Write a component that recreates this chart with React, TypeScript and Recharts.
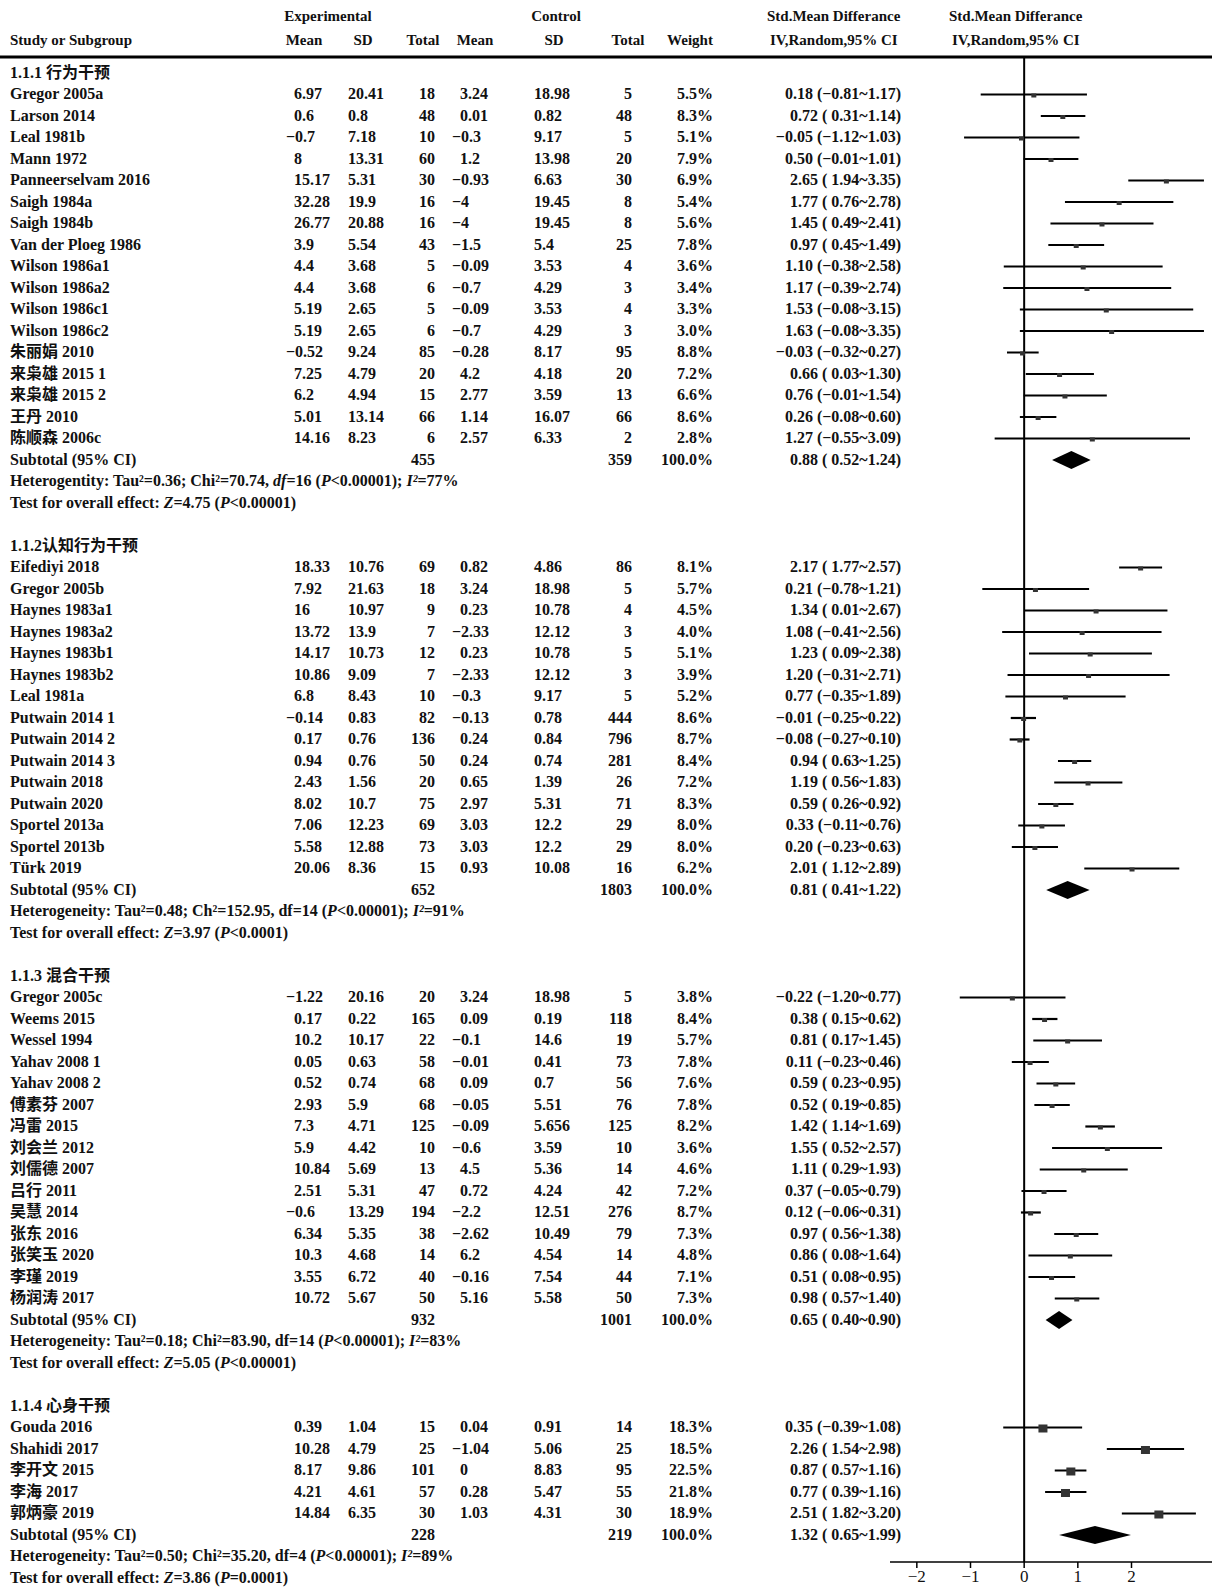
import React from "react";
import {
  ScatterChart,
  Scatter,
  XAxis,
  YAxis,
  ErrorBar,
  ReferenceLine,
  ReferenceArea,
} from "recharts";

// name, exp mean, exp SD, exp total, ctl mean, ctl SD, ctl total, weight %, SMD, lower, upper
type Study = [string, number, number, number, number, number, number, number, number, number, number];

const behaviour: Study[] = [
  ["Gregor 2005a", 6.97, 20.41, 18, 3.24, 18.98, 5, 5.5, 0.18, -0.81, 1.17],
  ["Larson 2014", 0.6, 0.8, 48, 0.01, 0.82, 48, 8.3, 0.72, 0.31, 1.14],
  ["Leal 1981b", -0.7, 7.18, 10, -0.3, 9.17, 5, 5.1, -0.05, -1.12, 1.03],
  ["Mann 1972", 8, 13.31, 60, 1.2, 13.98, 20, 7.9, 0.5, -0.01, 1.01],
  ["Panneerselvam 2016", 15.17, 5.31, 30, -0.93, 6.63, 30, 6.9, 2.65, 1.94, 3.35],
  ["Saigh 1984a", 32.28, 19.9, 16, -4, 19.45, 8, 5.4, 1.77, 0.76, 2.78],
  ["Saigh 1984b", 26.77, 20.88, 16, -4, 19.45, 8, 5.6, 1.45, 0.49, 2.41],
  ["Van der Ploeg 1986", 3.9, 5.54, 43, -1.5, 5.4, 25, 7.8, 0.97, 0.45, 1.49],
  ["Wilson 1986a1", 4.4, 3.68, 5, -0.09, 3.53, 4, 3.6, 1.1, -0.38, 2.58],
  ["Wilson 1986a2", 4.4, 3.68, 6, -0.7, 4.29, 3, 3.4, 1.17, -0.39, 2.74],
  ["Wilson 1986c1", 5.19, 2.65, 5, -0.09, 3.53, 4, 3.3, 1.53, -0.08, 3.15],
  ["Wilson 1986c2", 5.19, 2.65, 6, -0.7, 4.29, 3, 3.0, 1.63, -0.08, 3.35],
  ["朱丽娟 2010", -0.52, 9.24, 85, -0.28, 8.17, 95, 8.8, -0.03, -0.32, 0.27],
  ["来枭雄 2015 1", 7.25, 4.79, 20, 4.2, 4.18, 20, 7.2, 0.66, 0.03, 1.3],
  ["来枭雄 2015 2", 6.2, 4.94, 15, 2.77, 3.59, 13, 6.6, 0.76, -0.01, 1.54],
  ["王丹 2010", 5.01, 13.14, 66, 1.14, 16.07, 66, 8.6, 0.26, -0.08, 0.6],
  ["陈顺森 2006c", 14.16, 8.23, 6, 2.57, 6.33, 2, 2.8, 1.27, -0.55, 3.09],
];

const cognitive: Study[] = [
  ["Eifediyi 2018", 18.33, 10.76, 69, 0.82, 4.86, 86, 8.1, 2.17, 1.77, 2.57],
  ["Gregor 2005b", 7.92, 21.63, 18, 3.24, 18.98, 5, 5.7, 0.21, -0.78, 1.21],
  ["Haynes 1983a1", 16, 10.97, 9, 0.23, 10.78, 4, 4.5, 1.34, 0.01, 2.67],
  ["Haynes 1983a2", 13.72, 13.9, 7, -2.33, 12.12, 3, 4.0, 1.08, -0.41, 2.56],
  ["Haynes 1983b1", 14.17, 10.73, 12, 0.23, 10.78, 5, 5.1, 1.23, 0.09, 2.38],
  ["Haynes 1983b2", 10.86, 9.09, 7, -2.33, 12.12, 3, 3.9, 1.2, -0.31, 2.71],
  ["Leal 1981a", 6.8, 8.43, 10, -0.3, 9.17, 5, 5.2, 0.77, -0.35, 1.89],
  ["Putwain 2014 1", -0.14, 0.83, 82, -0.13, 0.78, 444, 8.6, -0.01, -0.25, 0.22],
  ["Putwain 2014 2", 0.17, 0.76, 136, 0.24, 0.84, 796, 8.7, -0.08, -0.27, 0.1],
  ["Putwain 2014 3", 0.94, 0.76, 50, 0.24, 0.74, 281, 8.4, 0.94, 0.63, 1.25],
  ["Putwain 2018", 2.43, 1.56, 20, 0.65, 1.39, 26, 7.2, 1.19, 0.56, 1.83],
  ["Putwain 2020", 8.02, 10.7, 75, 2.97, 5.31, 71, 8.3, 0.59, 0.26, 0.92],
  ["Sportel 2013a", 7.06, 12.23, 69, 3.03, 12.2, 29, 8.0, 0.33, -0.11, 0.76],
  ["Sportel 2013b", 5.58, 12.88, 73, 3.03, 12.2, 29, 8.0, 0.2, -0.23, 0.63],
  ["Türk 2019", 20.06, 8.36, 15, 0.93, 10.08, 16, 6.2, 2.01, 1.12, 2.89],
];

const mixed: Study[] = [
  ["Gregor 2005c", -1.22, 20.16, 20, 3.24, 18.98, 5, 3.8, -0.22, -1.2, 0.77],
  ["Weems 2015", 0.17, 0.22, 165, 0.09, 0.19, 118, 8.4, 0.38, 0.15, 0.62],
  ["Wessel 1994", 10.2, 10.17, 22, -0.1, 14.6, 19, 5.7, 0.81, 0.17, 1.45],
  ["Yahav 2008 1", 0.05, 0.63, 58, -0.01, 0.41, 73, 7.8, 0.11, -0.23, 0.46],
  ["Yahav 2008 2", 0.52, 0.74, 68, 0.09, 0.7, 56, 7.6, 0.59, 0.23, 0.95],
  ["傅素芬 2007", 2.93, 5.9, 68, -0.05, 5.51, 76, 7.8, 0.52, 0.19, 0.85],
  ["冯雷 2015", 7.3, 4.71, 125, -0.09, 5.656, 125, 8.2, 1.42, 1.14, 1.69],
  ["刘会兰 2012", 5.9, 4.42, 10, -0.6, 3.59, 10, 3.6, 1.55, 0.52, 2.57],
  ["刘儒德 2007", 10.84, 5.69, 13, 4.5, 5.36, 14, 4.6, 1.11, 0.29, 1.93],
  ["吕行 2011", 2.51, 5.31, 47, 0.72, 4.24, 42, 7.2, 0.37, -0.05, 0.79],
  ["吴慧 2014", -0.6, 13.29, 194, -2.2, 12.51, 276, 8.7, 0.12, -0.06, 0.31],
  ["张东 2016", 6.34, 5.35, 38, -2.62, 10.49, 79, 7.3, 0.97, 0.56, 1.38],
  ["张笑玉 2020", 10.3, 4.68, 14, 6.2, 4.54, 14, 4.8, 0.86, 0.08, 1.64],
  ["李瑾 2019", 3.55, 6.72, 40, -0.16, 7.54, 44, 7.1, 0.51, 0.08, 0.95],
  ["杨润涛 2017", 10.72, 5.67, 50, 5.16, 5.58, 50, 7.3, 0.98, 0.57, 1.4],
];

const mindBody: Study[] = [
  ["Gouda 2016", 0.39, 1.04, 15, 0.04, 0.91, 14, 18.3, 0.35, -0.39, 1.08],
  ["Shahidi 2017", 10.28, 4.79, 25, -1.04, 5.06, 25, 18.5, 2.26, 1.54, 2.98],
  ["李开文 2015", 8.17, 9.86, 101, 0, 8.83, 95, 22.5, 0.87, 0.57, 1.16],
  ["李海 2017", 4.21, 4.61, 57, 0.28, 5.47, 55, 21.8, 0.77, 0.39, 1.16],
  ["郭炳豪 2019", 14.84, 6.35, 30, 1.03, 4.31, 30, 18.9, 2.51, 1.82, 3.2],
];

const groupTitles = ["1.1.1 行为干预", "1.1.2认知行为干预", "1.1.3 混合干预", "1.1.4 心身干预"];

// exp total, ctl total, SMD, lower, upper
const subtotals = [
  [455, 359, 0.88, 0.52, 1.24],
  [652, 1803, 0.81, 0.41, 1.22],
  [932, 1001, 0.65, 0.4, 0.9],
  [228, 219, 1.32, 0.65, 1.99],
];

// "*" marks an italic piece
const heterogeneity = [
  ["Heterogentity: Tau²=0.36; Chi²=70.74, ", "*df", "=16 (", "*P", "<0.00001); ", "*I²", "=77%"],
  ["Heterogeneity: Tau²=0.48; Ch²=152.95, df=14 (", "*P", "<0.00001); ", "*I²", "=91%"],
  ["Heterogeneity: Tau²=0.18; Chi²=83.90, df=14 (", "*P", "<0.00001); ", "*I²", "=83%"],
  ["Heterogeneity: Tau²=0.50; Chi²=35.20, df=4 (", "*P", "<0.00001); ", "*I²", "=89%"],
];

const overallEffect = [
  ["Test for overall effect: ", "*Z", "=4.75 (", "*P", "<0.00001)"],
  ["Test for overall effect: ", "*Z", "=3.97 (", "*P", "<0.0001)"],
  ["Test for overall effect: ", "*Z", "=5.05 (", "*P", "<0.00001)"],
  ["Test for overall effect: ", "*Z", "=3.86 (", "*P", "=0.0001)"],
];

const xTicks = [-2, -1, 0, 1, 2];

const FONT = "'Liberation Serif', 'Noto Sans CJK SC', serif";
const INK = "#111";

const groups = [behaviour, cognitive, mixed, mindBody];

const rows: any[] = [
  { i: -2.65, kind: "head1" },
  { i: -1.53, kind: "head2" },
  { i: -0.744, kind: "rule" },
];
let r = 0;
groups.forEach((studies, g) => {
  rows.push({ i: r++, kind: "title", text: groupTitles[g] });
  studies.forEach((s) => rows.push({ i: r++, kind: "study", s }));
  rows.push({ i: r++, kind: "sub", t: subtotals[g] });
  rows.push({ i: r++, kind: "parts", parts: heterogeneity[g] });
  rows.push({ i: r++, kind: "parts", parts: overallEffect[g] });
  r++;
});
const rowByIndex = new Map(rows.map((row) => [row.i, row]));

const studyPts = rows
  .filter((row) => row.kind === "study")
  .map((row) => {
    const s: Study = row.s;
    return { x: s[8], y: row.i, err: [s[8] - s[9], s[10] - s[8]], big: s[7] > 15 };
  });

const subPts = rows
  .filter((row) => row.kind === "sub")
  .map((row) => ({ est: row.t[2], lo: row.t[3], hi: row.t[4], y: row.i }));

const num = (v: number) => String(v).replace("-", "−");
const f2 = (v: number) => v.toFixed(2).replace("-", "−");
const ci = (est: number, lo: number, hi: number) =>
  `${f2(est)} (${lo < 0 ? "" : " "}${f2(lo)}~${f2(hi)})`;
const hang = (v: number) => (v < 0 ? -8 : 0);

const T = (props: any) => (
  <text
    fontFamily={FONT}
    fontSize={16}
    fontWeight="bold"
    fill={INK}
    dy={5}
    style={{ whiteSpace: "pre" }}
    {...props}
  />
);

const H = (props: any) => <T fontSize={15} {...props} />;

const RowTick = (props: any) => {
  const { y, payload } = props;
  const row = rowByIndex.get(payload.value);
  if (!row) return null;
  if (row.kind === "head1") {
    return (
      <g>
        <H x={328} y={y} textAnchor="middle">Experimental</H>
        <H x={556} y={y} textAnchor="middle">Control</H>
        <H x={767} y={y}>Std.Mean Differance</H>
        <H x={949} y={y}>Std.Mean Differance</H>
      </g>
    );
  }
  if (row.kind === "head2") {
    return (
      <g>
        <H x={10} y={y}>Study or Subgroup</H>
        <H x={304} y={y} textAnchor="middle">Mean</H>
        <H x={363} y={y} textAnchor="middle">SD</H>
        <H x={423} y={y} textAnchor="middle">Total</H>
        <H x={475} y={y} textAnchor="middle">Mean</H>
        <H x={554} y={y} textAnchor="middle">SD</H>
        <H x={628} y={y} textAnchor="middle">Total</H>
        <H x={690} y={y} textAnchor="middle">Weight</H>
        <H x={770} y={y}>IV,Random,95% CI</H>
        <H x={952} y={y}>IV,Random,95% CI</H>
      </g>
    );
  }
  if (row.kind === "rule") {
    return <line x1={0} x2={1212} y1={y} y2={y} stroke="#000" strokeWidth={3} />;
  }
  if (row.kind === "title") {
    return <T x={10} y={y}>{row.text}</T>;
  }
  if (row.kind === "study") {
    const s: Study = row.s;
    return (
      <g>
        <T x={10} y={y}>{s[0]}</T>
        <T x={294 + hang(s[1])} y={y}>{num(s[1])}</T>
        <T x={348 + hang(s[2])} y={y}>{num(s[2])}</T>
        <T x={435} y={y} textAnchor="end">{num(s[3])}</T>
        <T x={460 + hang(s[4])} y={y}>{num(s[4])}</T>
        <T x={534 + hang(s[5])} y={y}>{num(s[5])}</T>
        <T x={632} y={y} textAnchor="end">{num(s[6])}</T>
        <T x={713} y={y} textAnchor="end">{s[7].toFixed(1) + "%"}</T>
        <T x={901} y={y} textAnchor="end">{ci(s[8], s[9], s[10])}</T>
      </g>
    );
  }
  if (row.kind === "sub") {
    const t = row.t;
    return (
      <g>
        <T x={10} y={y}>Subtotal (95% CI)</T>
        <T x={435} y={y} textAnchor="end">{t[0]}</T>
        <T x={632} y={y} textAnchor="end">{t[1]}</T>
        <T x={713} y={y} textAnchor="end">100.0%</T>
        <T x={901} y={y} textAnchor="end">{ci(t[2], t[3], t[4])}</T>
      </g>
    );
  }
  return (
    <T x={10} y={y}>
      {row.parts.map((p: string, k: number) =>
        p.startsWith("*") ? (
          <tspan key={k} fontStyle="italic">{p.slice(1)}</tspan>
        ) : (
          <tspan key={k}>{p}</tspan>
        )
      )}
    </T>
  );
};

const AxisTick = (props: any) => {
  const { x, y, payload } = props;
  return (
    <text
      x={x}
      y={y}
      dy={14}
      textAnchor="middle"
      fill={INK}
      style={{ fontFamily: FONT, fontSize: 17 }}
    >
      {num(payload.value)}
    </text>
  );
};

const Square = (p: any) => {
  const w = p.payload.big ? 9 : 5;
  const h = p.payload.big ? 8 : 4;
  return <rect x={p.cx - w / 2} y={p.cy - h / 2 + 1} width={w} height={h} fill="#333" />;
};

const Diamond = (p: any) => {
  const { x, y, width, height, d } = p;
  const mid = x + (width * (d.est - d.lo)) / (d.hi - d.lo);
  const cy = y + height / 2;
  return (
    <polygon
      points={`${x},${cy} ${mid},${y} ${x + width},${cy} ${mid},${y + height}`}
      fill="#000"
    />
  );
};

export default function App() {
  return (
    <div style={{ width: 1212, height: 1590, background: "#fff" }}>
      <style>{`body{margin:0}`}</style>
      <ScatterChart
        width={1212}
        height={1590}
        margin={{ top: 57, right: 0, bottom: 0, left: 0 }}
      >
        <XAxis
          type="number"
          dataKey="x"
          domain={[-2.5, 3.5]}
          ticks={xTicks}
          height={28}
          tickSize={6}
          tickMargin={0}
          axisLine={{ stroke: "#000", strokeWidth: 1.5 }}
          tickLine={{ stroke: "#000", strokeWidth: 1.5 }}
          tick={<AxisTick />}
        />
        <YAxis
          type="number"
          dataKey="y"
          domain={[-0.744, 69.256]}
          reversed
          width={890}
          ticks={rows.map((row) => row.i)}
          interval={0}
          axisLine={false}
          tickLine={false}
          tick={<RowTick />}
        />
        <ReferenceLine x={0} stroke="#000" strokeWidth={2} />
        {subPts.map((d) => (
          <ReferenceArea
            key={d.y}
            x1={d.lo}
            x2={d.hi}
            y1={d.y - 0.42}
            y2={d.y + 0.42}
            shape={(p: any) => <Diamond {...p} d={d} />}
          />
        ))}
        <Scatter data={studyPts} shape={<Square />} isAnimationActive={false}>
          <ErrorBar
            dataKey="err"
            direction="x"
            width={0}
            stroke="#000"
            strokeWidth={2.2}
            isAnimationActive={false}
          />
        </Scatter>
      </ScatterChart>
    </div>
  );
}
